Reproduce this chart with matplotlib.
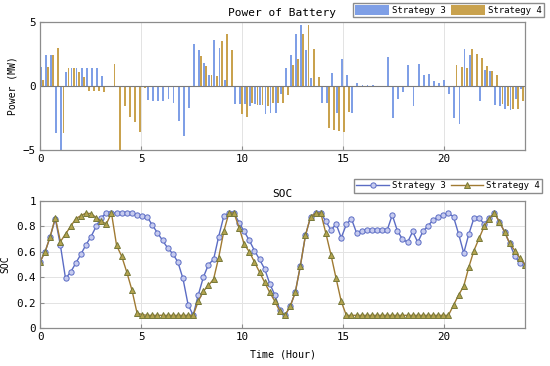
import numpy as np
import matplotlib
matplotlib.use('Agg')
from matplotlib import pyplot as plt

# 15-min battery schedule
t = np.linspace(0, 24, 96)

p_s3 = [1.5, 2.4, 2.4, -3.7, -5.0, 1.1, 1.4, 1.43, 1.43, 1.43,
        1.43, 1.43, 0.78, 0, 0, 0, 0, 0, -0.1, -0.1,
        -0.1, -1.1, -1.2, -1.2, -1.2, -1.0, -1.3, -2.75, -3.9, -1.7,
        3.25, 2.85, 1.8, 0.85, 3.6, 3.0, 0.5, 0, -1.4, -1.4,
        -1.4, -1.6, -1.4, -1.5, -2.2, -2.1, -2.1, -0.6, 1.4, 2.4,
        4.1, 4.75, 2.85, 0.6, 0, -1.35, -1.35, 1.0, -2.1, 2.1,
        0.85, -2.1, 0.2, 0.1, 0.1, 0.05, 0, 0, 2.3, -2.5,
        -1.05, -0.45, 1.65, -1.6, 1.7, 0.88, 0.94, 0.42, 0.2, 0.45,
        -0.6, -2.5, -2.95, 2.9, 2.45, 0, -1.2, 1.25, 1.2, -1.45,
        -1.6, -1.8, -1.9, -1.0, -0.2, 0]

p_s4 = [0.47, 1.5, 2.4, 2.94, -3.7, 1.4, 1.4, 1.1, 0.68, -0.36,
        -0.36, -0.4, -0.45, -0.1, 1.7, -5.0, -1.6, -2.4, -2.8, -3.6,
        -0.15, -0.05, 0, 0, 0, 0, 0, 0, 0, 0,
        0, 2.35, 1.55, 0.86, 0.8, 3.5, 4.1, 2.85, 0, -2.2,
        -2.4, -1.3, -1.5, -1.5, -1.6, -1.35, -1.35, -1.35, -0.7, 1.64,
        2.08, 4.1, 4.77, 2.86, 0.68, 0, -3.3, -3.4, -3.5, -3.6,
        -2.0, 0, 0, 0, 0, 0, 0, 0, 0, 0,
        0, 0, 0, 0, 0, 0, 0, 0, 0, 0,
        0, 1.64, 1.5, 1.4, 2.86, 2.5, 2.16, 1.6, 1.2, 0.86,
        -1.4, -1.6, -1.8, -1.8, -1.2, -1.0]

soc_s3 = [0.52, 0.60, 0.72, 0.86, 0.65, 0.39, 0.44, 0.51, 0.58, 0.655,
          0.72, 0.80, 0.87, 0.905, 0.905, 0.905, 0.905, 0.905, 0.905, 0.89,
          0.88, 0.875, 0.81, 0.75, 0.69, 0.63, 0.585, 0.52, 0.39, 0.185,
          0.10, 0.26, 0.40, 0.50, 0.54, 0.72, 0.88, 0.905, 0.905, 0.83,
          0.76, 0.69, 0.61, 0.54, 0.465, 0.35, 0.26, 0.14, 0.10, 0.17,
          0.28, 0.49, 0.73, 0.875, 0.905, 0.905, 0.84, 0.77, 0.82, 0.71,
          0.815, 0.86, 0.75, 0.765, 0.77, 0.77, 0.77, 0.77, 0.77, 0.89,
          0.765, 0.70, 0.675, 0.76, 0.675, 0.76, 0.805, 0.85, 0.875, 0.89,
          0.905, 0.875, 0.74, 0.59, 0.74, 0.865, 0.865, 0.82, 0.865, 0.905,
          0.835, 0.757, 0.666, 0.567, 0.51, 0.50]

soc_s4 = [0.52, 0.60, 0.72, 0.87, 0.68, 0.74, 0.80, 0.86, 0.885, 0.905,
          0.90, 0.87, 0.84, 0.82, 0.905, 0.65, 0.565, 0.44, 0.30, 0.12,
          0.105, 0.10, 0.10, 0.10, 0.10, 0.10, 0.10, 0.10, 0.10, 0.10,
          0.10, 0.21, 0.29, 0.335, 0.385, 0.555, 0.76, 0.905, 0.905, 0.79,
          0.66, 0.60, 0.52, 0.44, 0.36, 0.28, 0.21, 0.13, 0.10, 0.17,
          0.28, 0.49, 0.73, 0.875, 0.905, 0.905, 0.745, 0.575, 0.39, 0.21,
          0.10, 0.10, 0.10, 0.10, 0.10, 0.10, 0.10, 0.10, 0.10, 0.10,
          0.10, 0.10, 0.10, 0.10, 0.10, 0.10, 0.10, 0.10, 0.10, 0.10,
          0.10, 0.18, 0.26, 0.33, 0.48, 0.61, 0.705, 0.80, 0.86, 0.905,
          0.835, 0.757, 0.666, 0.61, 0.55, 0.50]

labels = ['Strategy 3', 'Strategy 4']
xticks = [0, 5, 10, 15, 20]

FONT = 'DejaVu Sans Mono'
plt.rcParams['font.family'] = FONT
plt.rcParams['font.size'] = 7.5

C_BAR3 = '#7F9FE6'
C_BAR4 = '#C9A24E'
C_LINE3 = '#5B6CC4'
C_LINE4 = '#A07A32'
EDGE = '#8C8C8C'
GRID = '#E3E3E3'


def style(ax):
    for s in ax.spines.values():
        s.set_color(EDGE)
        s.set_linewidth(0.9)
    ax.tick_params(direction='in', length=3, color=EDGE, labelsize=7.8, pad=3)
    ax.grid(True, color=GRID, lw=0.7)
    ax.set_axisbelow(True)
    ax.set_xlim(0, 24)
    ax.set_xticks(xticks)


W, H = 550, 366
fig = plt.figure(figsize=(W / 100, H / 100), dpi=100)
ax1 = fig.add_axes([40 / W, 1 - 150 / H, 485 / W, 128 / H])
ax2 = fig.add_axes([40 / W, 1 - 328 / H, 485 / W, 127 / H])

# power bars
bw = 0.09
b3 = ax1.bar(t + 0.04, p_s3, width=bw, color=C_BAR3, label=labels[0])
b4 = ax1.bar(t + 0.15, p_s4, width=bw, color=C_BAR4, label=labels[1])
ax1.axhline(0, color='#7A7A7A', lw=0.8)
style(ax1)
ax1.set_ylim(-5, 5)
ax1.set_yticks([-5, 0, 5])
ax1.set_ylabel('Power (MW)', fontsize=7, labelpad=4)
ax1.set_title('Power of Battery', fontsize=8, pad=4)
ax1.legend(handles=[b3, b4], ncol=2, loc='upper right',
           bbox_to_anchor=(544 / W, 1 - 3 / H), bbox_transform=fig.transFigure,
           fontsize=6.5, frameon=True, fancybox=False, framealpha=1,
           edgecolor=EDGE, borderaxespad=0, handlelength=3.8, handleheight=1.2,
           handletextpad=0.3, columnspacing=0.6, borderpad=0.25)

# SOC lines
ax2.plot(t, soc_s3, '-o', color=C_LINE3, lw=1.0, ms=3.8, mfc='#C6CBEF',
         mec=C_LINE3, mew=0.7, label=labels[0])
ax2.plot(t, soc_s4, '-^', color=C_LINE4, lw=1.0, ms=4.2, mfc='#B4A34E',
         mec='#76793A', mew=0.7, label=labels[1])
style(ax2)
ax2.set_ylim(0, 1)
ax2.set_yticks([0, 0.2, 0.4, 0.6, 0.8, 1])
ax2.set_yticklabels(['0', '0.2', '0.4', '0.6', '0.8', '1'])
ax2.set_ylabel('SOC', fontsize=7, labelpad=4)
ax2.set_xlabel('Time (Hour)', fontsize=7.2, labelpad=5)
ax2.set_title('SOC', fontsize=8, pad=3)
ax2.legend(ncol=2, loc='upper right',
           bbox_to_anchor=(542 / W, 1 - 179 / H), bbox_transform=fig.transFigure,
           fontsize=6.5, frameon=True, fancybox=False, framealpha=1,
           edgecolor=EDGE, borderaxespad=0, handlelength=3.6,
           handletextpad=0.3, columnspacing=0.6, borderpad=0.25)

fig.savefig('out.png', dpi=100)
